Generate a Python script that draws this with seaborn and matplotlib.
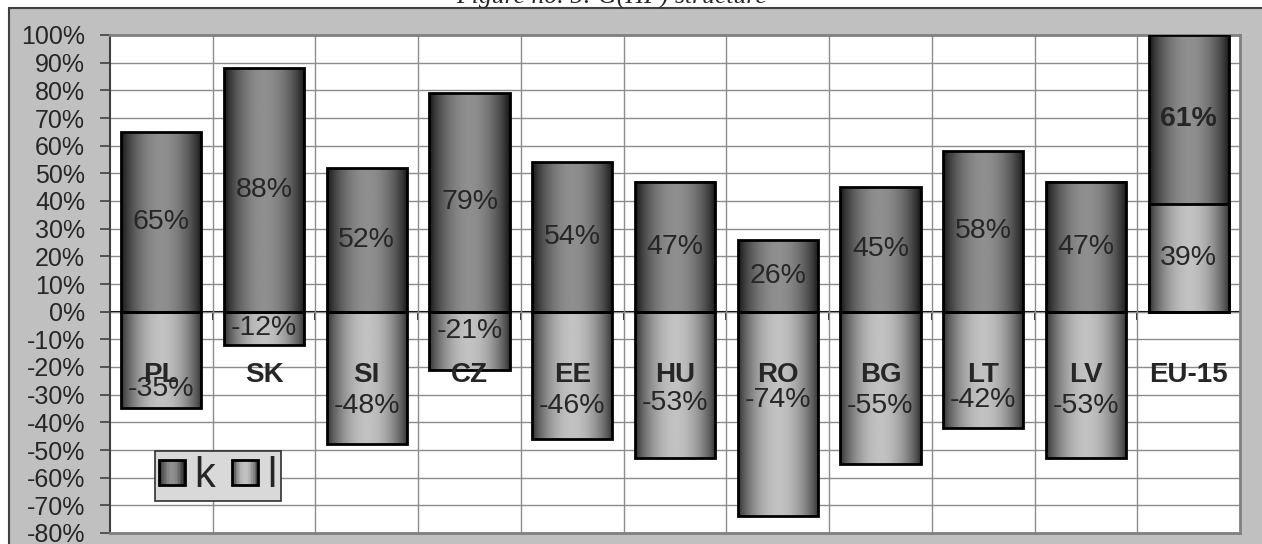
import numpy as np
import pandas as pd
import matplotlib
matplotlib.use('Agg')
import matplotlib.pyplot as plt
import seaborn as sns
from matplotlib.patches import Rectangle
from matplotlib.legend_handler import HandlerBase

# data
countries = ['PL', 'SK', 'SI', 'CZ', 'EE', 'HU', 'RO', 'BG', 'LT', 'LV', 'EU-15']
k_share = [65, 88, 52, 79, 54, 47, 26, 45, 58, 47, 61]
l_share = [-35, -12, -48, -21, -46, -53, -74, -55, -42, -53, 39]
# excel pushed the l labels around, this is where they sit in the picture
l_label_at = [-28, -6, -34, -7, -34, -33, -32, -34, -32, -34, 19.5]
yticks = list(range(-80, 101, 10))

sns.set_style('white')
plt.rcParams['font.family'] = ['Liberation Sans', 'DejaVu Sans']
plt.rcParams['axes.unicode_minus'] = False

df = pd.DataFrame({'country': countries, 'k': k_share, 'l': l_share})
df['k_top'] = df['k'] + df['l'].clip(lower=0)

# gray "cylinder" shading, dark at the edges
K_SHADE = (0.06, 0.56)
L_SHADE = (0.16, 0.76)


def shade(t, lo, hi):
    return lo + (hi - lo) * np.sin(np.pi * t) ** 0.75


fig = plt.figure(figsize=(12.62, 5.44), dpi=100)
fig.patch.set_facecolor('white')
frame = Rectangle((9 / 1262, -0.02), 1.1, 1.02 - 8 / 544, transform=fig.transFigure,
                  facecolor='#c0c0c0', edgecolor='#404040', lw=1.5, zorder=-5)
fig.add_artist(frame)

ax = fig.add_axes([110 / 1262, 11 / 544, 1130 / 1262, 498 / 544])
ax.set_facecolor('white')

n0 = len(ax.patches)
sns.barplot(data=df, x='country', y='k_top', ax=ax, width=0.78, color='0.4',
            edgecolor='black', linewidth=2, errorbar=None)
k_bars = ax.patches[n0:]
n1 = len(ax.patches)
sns.barplot(data=df, x='country', y='l', ax=ax, width=0.78, color='0.7',
            edgecolor='black', linewidth=2, errorbar=None)
l_bars = ax.patches[n1:]


def paint(bar, lo, hi):
    x, y = bar.get_x(), bar.get_y()
    w, h = bar.get_width(), bar.get_height()
    t = np.linspace(0, 1, 200)
    g = shade(t, lo, hi)[None, :]
    ax.imshow(g, extent=[x, x + w, min(y, y + h), max(y, y + h)], aspect='auto',
              cmap='gray', vmin=0, vmax=1, zorder=2.5, interpolation='bilinear')
    bar.set_facecolor('none')
    bar.set_zorder(4)


for b in k_bars:
    paint(b, *K_SHADE)
for b in l_bars:
    paint(b, *L_SHADE)

ax.set_xlim(-0.5, len(countries) - 0.5)
ax.set_ylim(-80, 100)

# value labels
for i, (kv, lv) in enumerate(zip(k_share, l_share)):
    base = max(lv, 0)
    bold = countries[i] == 'EU-15'
    ax.text(i, base + kv / 2, f'{kv}%', ha='center', va='center', fontsize=20.5,
            fontweight='bold' if bold else 'normal', zorder=6)
    ax.text(i, l_label_at[i], f'{lv}%', ha='center', va='center', fontsize=20.5, zorder=6)
    ax.text(i, -23, countries[i], ha='center', va='center', fontsize=20,
            fontweight='bold', zorder=6)

# axes cosmetics
ax.set_xlabel('')
ax.set_ylabel('')
ax.set_yticks(yticks)
ax.set_yticklabels([f'{v}%' for v in yticks])
ax.set_xticks([])
ax.set_xticks(np.arange(0.5, len(countries) - 1, 1), minor=True)
ax.tick_params(axis='x', which='both', length=0)
ax.tick_params(axis='y', direction='out', length=7, width=1.2, color='#404040',
               labelsize=18, pad=11, left=True)
ax.set_axisbelow(True)
ax.yaxis.grid(True, color='#8c8c8c', lw=1)
ax.xaxis.grid(True, which='minor', color='#8c8c8c', lw=1)
for s in ['top', 'right', 'bottom']:
    ax.spines[s].set_color('#808080')
    ax.spines[s].set_linewidth(2)
ax.spines['left'].set_color('#404040')
ax.spines['left'].set_linewidth(1.5)

# category axis sitting on 0%
sec = ax.secondary_xaxis(80 / 180)
sec.set_xticks(np.arange(0.5, len(countries) - 1, 1))
sec.set_xticklabels([])
sec.tick_params(direction='out', length=6, width=1.2, color='black')
sec.spines['bottom'].set_color('black')
sec.spines['bottom'].set_linewidth(1.5)


class GradientHandler(HandlerBase):
    def __init__(self, lo, hi):
        super().__init__()
        self.lo, self.hi = lo, hi

    def create_artists(self, legend, orig_handle, xdescent, ydescent, width, height,
                       fontsize, trans):
        side = height
        x0 = -xdescent + (width - side) / 2
        y0 = -ydescent
        n = 16
        arts = []
        for j in range(n):
            c = str(shade((j + 0.5) / n, self.lo, self.hi))
            arts.append(Rectangle((x0 + j * side / n, y0), side / n, side, facecolor=c,
                                  edgecolor='none', transform=trans))
        arts.append(Rectangle((x0, y0), side, side, facecolor='none', edgecolor='black',
                              lw=2, transform=trans))
        return arts


hk = Rectangle((0, 0), 1, 1)
hl = Rectangle((0, 0), 1, 1)
leg = ax.legend(handles=[hk, hl], labels=['k', 'l'],
                handler_map={hk: GradientHandler(*K_SHADE), hl: GradientHandler(*L_SHADE)},
                loc='lower left', bbox_to_anchor=(0.04, 0.064), ncol=2, fontsize=30,
                handlelength=0.56, handleheight=0.56, handletextpad=0.25, columnspacing=0.45,
                borderpad=0.12, borderaxespad=0, frameon=True, fancybox=False,
                facecolor='#d9d9d9', edgecolor='#303030', framealpha=1)
leg.get_frame().set_linewidth(1.2)
leg.set_zorder(7)

fig.text(612 / 1262, 1 - 4 / 544, 'Figure no. 5: G(HF) structure', ha='center',
         va='baseline', fontsize=18.5, style='italic', family=['Liberation Serif', 'DejaVu Serif'])

fig.savefig('out.png', dpi=100)
